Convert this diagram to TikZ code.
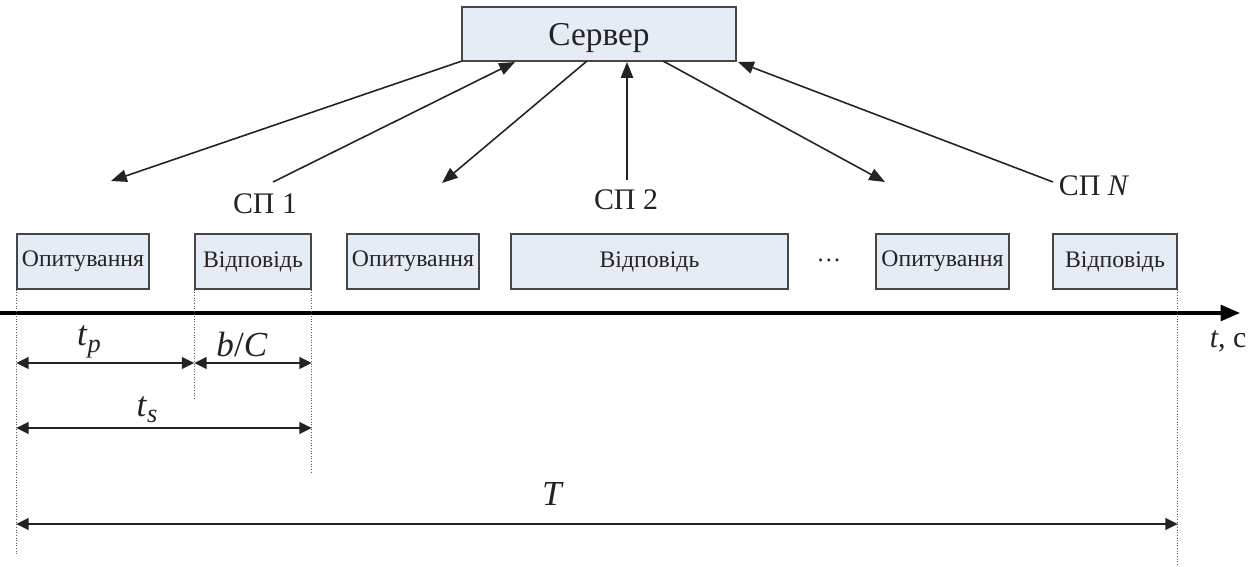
\documentclass[tikz,border=0pt]{standalone}
\usepackage{fontspec}
\setmainfont{Liberation Serif}
\usetikzlibrary{arrows.meta}
\definecolor{boxfill}{RGB}{230,236,246}
\definecolor{boxline}{RGB}{70,70,70}
\definecolor{ink}{RGB}{35,35,35}
% italic quantity with a lowered italic index
\newcommand\qidx[2]{\textit{#1}\raisebox{-0.4ex}{\fontsize{15}{16}\selectfont\textit{#2}}}
\begin{document}
\begin{tikzpicture}[x=0.02cm,y=-0.02cm,
  slot/.style={draw=boxline,line width=0.9pt,fill=boxfill,minimum height=1.1cm,
    inner sep=0pt,font=\fontsize{13.5}{15}\selectfont,text=ink},
  conn/.style={draw=ink,line width=0.9pt,-{Triangle[length=9pt,width=7pt]}},
  dim/.style={draw=ink,line width=1.5pt,{Triangle[length=7pt,width=6.5pt]}-{Triangle[length=7pt,width=6.5pt]}},
  guide/.style={draw=gray!70!black,line width=0.5pt,densely dotted},
  lbl/.style={font=\fontsize{17}{19}\selectfont,text=ink,inner sep=0pt},
  mlbl/.style={font=\fontsize{20}{22}\selectfont,text=ink,inner sep=0pt}]
\useasboundingbox (0,0) rectangle (1260,567);

% server
\node[draw=boxline,line width=0.9pt,fill=boxfill,minimum width=5.48cm,minimum height=1.08cm,
  inner sep=0pt,text depth=0pt,font=\fontsize{19}{21}\selectfont,text=ink] (srv) at (599,34) {Сервер};

% time slots
\node[slot,minimum width=2.64cm] (op1) at (83,261.5) {Опитування};
\node[slot,minimum width=2.32cm] (ans1) at (253,261.5) {Відповідь};
\node[slot,minimum width=2.64cm] (op2) at (413,261.5) {Опитування};
\node[slot,minimum width=5.54cm] (ans2) at (649.5,261.5) {Відповідь};
\node[lbl,font=\fontsize{14}{15}\selectfont] (dots) at (829,260) {\ldots};
\node[slot,minimum width=2.66cm] (op3) at (942.5,261.5) {Опитування};
\node[slot,minimum width=2.48cm] (ans3) at (1115,261.5) {Відповідь};

% station labels
\node[lbl] (sp1) at (265,204) {СП 1};
\node[lbl] (sp2) at (626,200) {СП 2};
\node[lbl] (spN) at (1094,186) {СП \textit{N}};

% ends of the server connectors
\coordinate (s1) at (462,61);
\coordinate (s2) at (515,62);
\coordinate (s3) at (587,61);
\coordinate (s4) at (627,62);
\coordinate (s5) at (663,61);
\coordinate (s6) at (738,62);
\coordinate (e1) at (111,181);
\coordinate (e3) at (442,183);
\coordinate (e5) at (885,182);
\coordinate (f1) at (273,182);
\coordinate (f2) at (627,180);
\coordinate (fN) at (1053,182);

\draw[conn] (s1) -- (e1);
\draw[conn] (f1) -- (s2);
\draw[conn] (s3) -- (e3);
\draw[conn] (f2) -- (s4);
\draw[conn] (s5) -- (e5);
\draw[conn] (fN) -- (s6);

% time axis
\coordinate (ax0) at (0,313);
\coordinate (ax1) at (1240,313);
\draw[draw=black,line width=1.8pt,-{Triangle[length=11pt,width=9pt]}] (ax0) -- (ax1);
\node[lbl] (tc) at (1228,341) {\textit{t},~с};

% guide lines
\draw[guide] (op1.south west) -- ++(0,266);
\draw[guide] (ans1.south west) -- ++(0,110);
\draw[guide] (ans1.south east) -- ++(0,182);
\draw[guide] (ans3.south east) -- ++(0,280);

% dimensions
\coordinate (rowa) at (0,363);
\coordinate (rowb) at (0,428);
\coordinate (rowc) at (0,524);
\draw[dim] (op1.south west |- rowa) -- (ans1.south west |- rowa);
\draw[dim] (ans1.south west |- rowa) -- (ans1.south east |- rowa);
\draw[dim] (op1.south west |- rowb) -- (ans1.south east |- rowb);
\draw[dim] (op1.south west |- rowc) -- (ans3.south east |- rowc);
\node[mlbl] (tp) at (89,342) {\qidx{t}{p}};
\node[mlbl] (bc) at (242,344) {\textit{b}/\textit{C}};
\node[mlbl] (ts) at (147,410) {\qidx{t}{s}};
\node[mlbl] (tT) at (553,494) {\textit{T}};
\end{tikzpicture}
\end{document}
